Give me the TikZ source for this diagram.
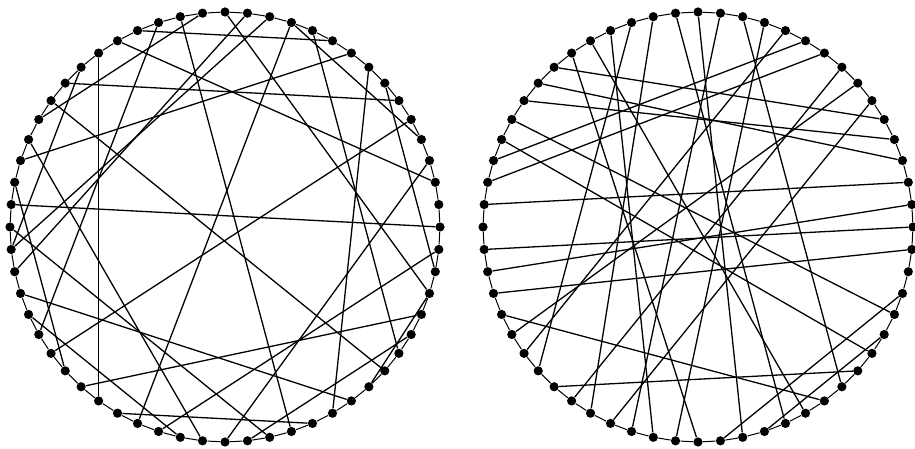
\documentclass[tikz,border=0pt]{standalone}
\usetikzlibrary{calc}
\tikzset{dot/.style={fill,circle,inner sep=0pt,minimum size=4.6pt}}
\tikzset{ring/.style={line width=0.5pt}}
\tikzset{chord/.style={line width=0.65pt}}

\begin{document}
\begin{tikzpicture}[x=0.5pt,y=0.5pt]
    \useasboundingbox (0,0) rectangle (915,449);
    \coordinate (cl) at (225,222);
    \coordinate (cr) at (698,222);
    % the two rings of 60 nodes
    \foreach \k in {0,...,59} {
        \node [dot] (a\k) at ($(cl)+({90+6*\k}:215)$) {};
        \node [dot] (b\k) at ($(cr)+({90+6*\k}:215)$) {};
    }
    \foreach \k in {0,...,59} {
        \pgfmathtruncatemacro{\n}{mod(\k+1,60)}
        \draw [ring] (a\k) -- (a\n);
        \draw [ring] (b\k) -- (b\n);
    }
    % left graph
    \foreach \u/\v in {14/45,6/24,8/51,4/55,12/54,5/47,1/10,3/20,21/50,13/22,
                       11/29,9/38,0/42,48/30,44/27,59/17,57/26,56/39,2/33,16/58,
                       15/32,18/36,23/41,25/34,19/28,40/31,7/16,57/49,53/35,52/43,42/37}
        \draw [chord] (a\u) -- (a\v);
    % right graph
    \foreach \u/\v in {23/38,3/22,2/25,1/34,0/32,59/27,58/37,57/29,55/12,54/13,
                       53/24,8/48,10/41,11/39,14/47,16/45,18/44,20/52,21/56,5/35,
                       6/30,7/50,9/49,17/46,19/36,26/51,28/4,31/42,33/40}
        \draw [chord] (b\u) -- (b\v);
\end{tikzpicture}
\end{document}
